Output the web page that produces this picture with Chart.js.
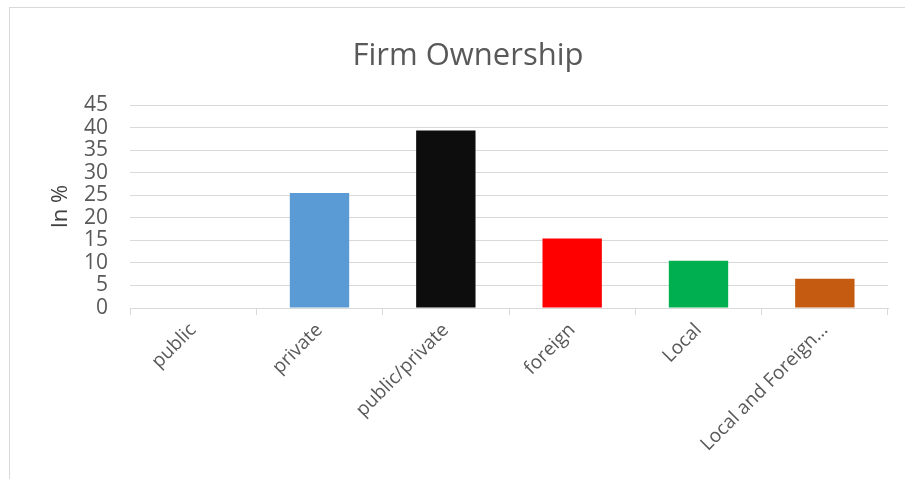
<!DOCTYPE html>
<html>
<head>
<meta charset="utf-8">
<script src="https://cdn.jsdelivr.net/npm/chart.js@4.4.0/dist/chart.umd.min.js"></script>
<style>
    body { margin: 0; background: #fff; }
    #wrap { position: relative; width: 905px; height: 479px; }
    #frame { position: absolute; left: 9px; top: 7px; right: -2px; bottom: -2px; border: 1px solid #d9d9d9; }
    canvas { position: absolute; left: 0; top: 0; }
</style>
</head>
<body>
<div id="wrap">
    <div id="frame"></div>
    <canvas id="ownershipChart" width="905" height="479"></canvas>
</div>
<script>
const categories = ['public', 'private', 'public/private', 'foreign', 'Local', 'Local and Foreign…'];
const shares = [0, 25.5, 39.4, 15.4, 10.5, 6.5];
const barColors = ['#5B9BD5', '#5B9BD5', '#0D0D0D', '#FF0000', '#00B050', '#C55A11'];
const yMax = 45;
const yStep = 5;

const ctx = document.getElementById('ownershipChart').getContext('2d');

Chart.defaults.font.family = '"Open Sans", sans-serif';
Chart.defaults.color = '#595959';

new Chart(ctx, {
    type: 'bar',
    data: {
        labels: categories,
        datasets: [{
            label: 'In %',
            data: shares,
            backgroundColor: barColors,
            barPercentage: 0.47,
            categoryPercentage: 1.0
        }]
    },
    options: {
        responsive: false,
        animation: false,
        layout: {
            padding: { left: 48, right: 17, top: 38, bottom: 0 }
        },
        plugins: {
            legend: { display: false },
            tooltip: { enabled: false },
            title: {
                display: true,
                text: 'Firm Ownership',
                color: '#595959',
                font: { size: 31, weight: 'normal' },
                padding: { top: 0, bottom: 30 }
            }
        },
        scales: {
            x: {
                offset: true,
                grid: {
                    display: true,
                    offset: true,
                    drawOnChartArea: false,
                    drawTicks: true,
                    tickLength: 7,
                    color: '#d9d9d9'
                },
                border: { display: true, color: '#d9d9d9', width: 1 },
                ticks: {
                    minRotation: 45,
                    maxRotation: 45,
                    padding: 4,
                    font: { size: 19 }
                },
                afterFit: function (scale) {
                    scale.height = 171;
                }
            },
            y: {
                min: 0,
                max: yMax,
                grid: {
                    color: '#d9d9d9',
                    drawTicks: false,
                    lineWidth: 1
                },
                border: { display: false },
                ticks: {
                    stepSize: yStep,
                    autoSkip: false,
                    padding: 22,
                    font: { size: 21 }
                },
                title: {
                    display: true,
                    text: 'In %',
                    color: '#404040',
                    font: { size: 22 },
                    padding: { top: 0, bottom: 4 }
                },
                afterFit: function (scale) {
                    scale.width = 82;
                }
            }
        }
    }
});
</script>
</body>
</html>
